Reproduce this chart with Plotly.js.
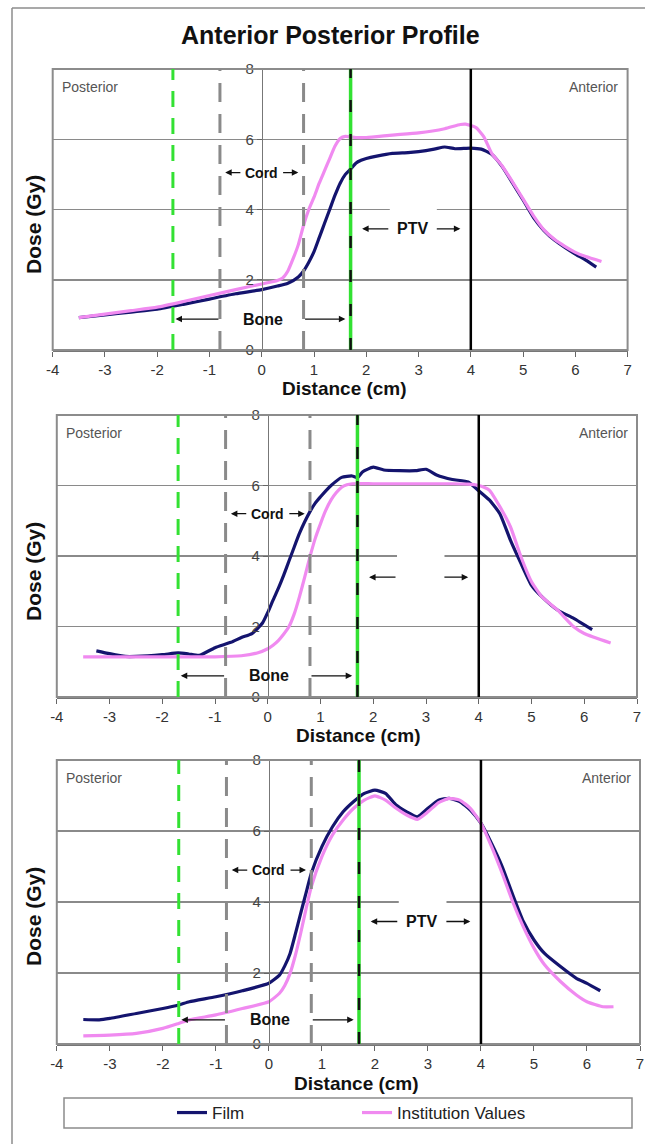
<!DOCTYPE html>
<html><head><meta charset="utf-8">
<script src="https://cdn.plot.ly/plotly-3.0.1.min.js"></script>
<style>html,body{margin:0;padding:0;background:#fff}</style>
</head><body><div id="chart" style="width:645px;height:1144px"></div>
<script>
// ---- data ----
const xTickVals = [-4,-3,-2,-1,0,1,2,3,4,5,6,7];
const xTickText = ['-4','-3','-2','-1','0','1','2','3','4','5','6','7'];
const yTickVals = [0,2,4,6,8];
const boneEdges = [-1.7, 1.7];
const cordEdges = [-0.8, 0.8];
const ptvEdge = 4;
const seriesNames = ['Film', 'Institution Values'];

const topFilmX = [-3.5,-3,-2.5,-2,-1.5,-1,-0.5,0,0.3,0.5,0.7,0.8,0.9,1.0,1.1,1.2,1.3,1.4,1.5,1.6,1.7,1.8,1.9,2.0,2.2,2.5,2.8,3.0,3.3,3.5,3.7,4.0,4.2,4.4,4.6,4.8,5.0,5.2,5.4,5.6,5.8,6.0,6.2,6.4];
const topFilmY = [0.92,1.0,1.08,1.16,1.3,1.45,1.6,1.72,1.82,1.9,2.08,2.25,2.5,2.8,3.2,3.6,4.0,4.4,4.75,5.0,5.15,5.32,5.4,5.45,5.52,5.6,5.62,5.65,5.72,5.78,5.73,5.75,5.72,5.57,5.22,4.75,4.27,3.77,3.4,3.13,2.92,2.73,2.56,2.36];
const topInstX = [-3.5,-3,-2.5,-2,-1.5,-1,-0.5,0,0.3,0.4,0.5,0.6,0.7,0.8,0.9,1.0,1.1,1.2,1.3,1.4,1.5,1.6,1.8,2.0,2.5,3.0,3.5,3.8,3.9,4.1,4.25,4.4,4.6,4.8,5.0,5.2,5.4,5.6,5.8,6.0,6.2,6.5];
const topInstY = [0.92,1.02,1.12,1.22,1.38,1.55,1.72,1.88,1.98,2.05,2.25,2.6,3.0,3.55,4.0,4.35,4.75,5.1,5.45,5.8,6.02,6.08,6.05,6.05,6.12,6.18,6.3,6.42,6.43,6.33,6.07,5.6,5.24,4.78,4.3,3.82,3.42,3.15,2.95,2.78,2.66,2.52];

const midFilmX = [-3.25,-3,-2.7,-2.5,-2,-1.7,-1.5,-1.3,-1,-0.7,-0.5,-0.3,-0.1,0,0.1,0.2,0.3,0.4,0.5,0.6,0.7,0.8,0.9,1.0,1.1,1.2,1.4,1.6,1.7,1.8,2.0,2.2,2.5,2.8,3.0,3.2,3.5,3.8,4.0,4.2,4.4,4.6,4.8,5.0,5.2,5.5,5.8,6.15];
const midFilmY = [1.31,1.23,1.15,1.15,1.2,1.25,1.22,1.18,1.4,1.55,1.69,1.8,2.1,2.4,2.75,3.08,3.45,3.85,4.25,4.64,4.97,5.26,5.5,5.68,5.85,6.0,6.23,6.27,6.22,6.39,6.52,6.44,6.42,6.42,6.46,6.3,6.17,6.1,5.85,5.59,5.2,4.45,3.79,3.17,2.84,2.46,2.23,1.91];
const midInstX = [-3.5,-3,-2,-1,-0.5,-0.2,0,0.1,0.2,0.3,0.4,0.5,0.6,0.7,0.8,0.9,1.0,1.1,1.2,1.3,1.4,1.5,1.6,2.0,2.5,3.0,3.5,3.8,4.0,4.1,4.2,4.4,4.6,4.8,5.0,5.2,5.5,5.8,6.0,6.5];
const midInstY = [1.14,1.14,1.14,1.14,1.17,1.25,1.37,1.47,1.6,1.78,1.99,2.35,2.84,3.4,3.98,4.5,4.92,5.3,5.59,5.8,5.95,6.02,6.05,6.05,6.05,6.05,6.05,6.04,6.0,5.95,5.87,5.4,4.83,3.98,3.27,2.84,2.46,1.99,1.8,1.53];

const botFilmX = [-3.5,-3.2,-3,-2.5,-2,-1.7,-1.5,-1,-0.5,0,0.2,0.3,0.4,0.5,0.6,0.7,0.8,1.0,1.2,1.4,1.6,1.8,2.0,2.2,2.4,2.6,2.8,3.0,3.2,3.4,3.6,3.8,4.0,4.2,4.4,4.6,4.8,5.0,5.2,5.5,5.8,6.0,6.25];
const botFilmY = [0.69,0.68,0.72,0.86,1.0,1.1,1.19,1.33,1.5,1.71,1.94,2.2,2.55,3.1,3.68,4.25,4.81,5.56,6.12,6.54,6.83,7.06,7.15,7.06,6.73,6.54,6.4,6.64,6.87,6.92,6.83,6.59,6.22,5.65,5.0,4.2,3.45,2.93,2.55,2.18,1.85,1.71,1.5];
const botInstX = [-3.5,-3,-2.5,-2,-1.7,-1.5,-1,-0.5,0,0.2,0.3,0.4,0.5,0.6,0.7,0.8,1.0,1.2,1.4,1.6,1.8,2.0,2.2,2.4,2.6,2.8,3.0,3.2,3.4,3.6,3.8,4.0,4.2,4.4,4.6,4.8,5.0,5.2,5.5,5.8,6.0,6.3,6.5];
const botInstY = [0.23,0.25,0.3,0.44,0.58,0.68,0.82,1.0,1.19,1.43,1.65,1.99,2.5,3.12,3.8,4.43,5.28,5.89,6.31,6.64,6.87,6.99,6.87,6.64,6.45,6.33,6.54,6.8,6.92,6.87,6.64,6.22,5.56,4.81,4.0,3.3,2.7,2.23,1.76,1.38,1.19,1.05,1.05];

const cordLabelY = [5.05, 5.2, 4.9];
const boneLabelY = [0.88, 0.6, 0.68];
const ptvLabelY = [3.45, 3.4, 3.45];
const ptvLabels = ['PTV', '', 'PTV'];

// ---- layout geometry (pixels) ----
const W = 645, H = 1144;
const panels = [
  {x0: 52.7, x1: 627.6, y0: 69, y1: 350, film: [topFilmX, topFilmY], inst: [topInstX, topInstY]},
  {x0: 56.8, x1: 637, y0: 415, y1: 697, film: [midFilmX, midFilmY], inst: [midInstX, midInstY]},
  {x0: 56.8, x1: 640, y0: 760, y1: 1044, film: [botFilmX, botFilmY], inst: [botInstX, botInstY]}
];
const px = v => v / W;
const py = v => 1 - v / H;
const FONT = 'Liberation Sans, Arial, sans-serif';
const filmColor = '#14146e';
const instColor = '#f08af0';
const green = '#33e133';

const data = [];
const shapes = [];
const annotations = [];
const layout = {
  width: W, height: H,
  margin: {l: 0, r: 0, t: 0, b: 0},
  paper_bgcolor: '#ffffff', plot_bgcolor: '#ffffff',
  font: {family: FONT, color: '#222'},
  showlegend: true,
  legend: {
    orientation: 'h', x: px(172), y: py(1113), xanchor: 'left', yanchor: 'middle',
    bgcolor: 'rgba(0,0,0,0)', borderwidth: 0,
    font: {family: FONT, size: 17, color: '#222'},
    entrywidth: 140, entrywidthmode: 'pixels'
  }
};

panels.forEach((p, i) => {
  const n = i === 0 ? '' : String(i + 1);
  const xa = 'x' + n, ya = 'y' + n;
  const unit = (p.x1 - p.x0) / 11;
  const zeroPx = p.x0 + 4 * unit;
  layout['xaxis' + n] = {
    domain: [px(p.x0), px(p.x1)], anchor: ya, range: [-4, 7],
    tickvals: xTickVals, ticktext: xTickText, ticks: 'outside', ticklen: 5, tickcolor: '#666', tickwidth: 1,
    showline: true, linecolor: '#777', linewidth: 1.5,
    showgrid: false, zeroline: false,
    tickfont: {family: FONT, size: 15, color: '#333'}
  };
  layout['yaxis' + n] = {
    domain: [py(p.y1), py(p.y0)], anchor: 'free', position: px(zeroPx), range: [0, 8],
    tickvals: yTickVals, ticks: 'outside', ticklen: 5, tickcolor: '#666',
    showline: true, linecolor: '#777', linewidth: 1,
    showgrid: true, gridcolor: '#8a8a8a', gridwidth: 1.5, zeroline: false,
    tickfont: {family: FONT, size: 15, color: '#444'}
  };
  data.push({
    type: 'scatter', mode: 'lines', name: seriesNames[0], x: p.film[0], y: p.film[1],
    xaxis: xa, yaxis: ya, line: {color: filmColor, width: 3.2, shape: 'spline', smoothing: 0.5},
    showlegend: i === 2, hoverinfo: 'skip'
  });
  data.push({
    type: 'scatter', mode: 'lines', name: seriesNames[1], x: p.inst[0], y: p.inst[1],
    xaxis: xa, yaxis: ya, line: {color: instColor, width: 3.2, shape: 'spline', smoothing: 0.5},
    showlegend: i === 2, hoverinfo: 'skip'
  });
  // gap in the 4 Gy gridline behind the PTV text box
  shapes.push({type: 'rect', xref: xa, yref: ya, x0: 2.45, x1: 3.35, y0: 3.9, y1: 4.1,
    fillcolor: '#ffffff', line: {width: 0}, layer: 'between'});
  // plot frame
  shapes.push({type: 'rect', xref: xa + ' domain', yref: ya + ' domain', x0: 0, x1: 1, y0: 0, y1: 1,
    line: {color: '#8c8c8c', width: 2}, layer: 'above'});
  const vline = (x, color, width, dash) => shapes.push({type: 'line', xref: xa, yref: ya + ' domain',
    x0: x, x1: x, y0: 0, y1: 1, line: {color: color, width: width, dash: dash}, layer: 'above'});
  vline(boneEdges[0], green, 3, '16px,11px');
  vline(cordEdges[0], '#8a8a8a', 3, '19px,12px');
  vline(cordEdges[1], '#8a8a8a', 3, '19px,12px');
  vline(boneEdges[1], green, 3.5, 'solid');
  vline(boneEdges[1], '#111111', 2.5, '12px,22px');
  vline(ptvEdge, '#000000', 2.5, 'solid');

  // side labels
  annotations.push({xref: xa, yref: ya, x: -3.86, y: 7.5, xanchor: 'left', yanchor: 'middle',
    text: 'Posterior', showarrow: false, font: {family: FONT, size: 14, color: '#555'}});
  annotations.push({xref: xa, yref: ya, x: 6.86, y: 7.5, xanchor: 'right', yanchor: 'middle',
    text: 'Anterior', showarrow: false, font: {family: FONT, size: 14, color: '#555'}});
  // region labels
  annotations.push({xref: xa, yref: ya, x: 0, y: cordLabelY[i], text: '<b>Cord</b>', showarrow: false,
    font: {family: FONT, size: 14, color: '#111'}});
  annotations.push({xref: xa, yref: ya, x: 0.02, y: boneLabelY[i], text: '<b>Bone</b>', showarrow: false,
    font: {family: FONT, size: 16, color: '#111'}});
  if (ptvLabels[i]) annotations.push({xref: xa, yref: ya, x: 2.88, y: ptvLabelY[i], text: '<b>' + ptvLabels[i] + '</b>',
    showarrow: false, font: {family: FONT, size: 16, color: '#111'}});
  const arrow = (tail, head, y) => annotations.push({xref: xa, yref: ya, axref: xa, ayref: ya,
    x: head, y: y, ax: tail, ay: y, text: '', showarrow: true, arrowhead: 2, arrowsize: 1,
    arrowwidth: 1.3, arrowcolor: '#111', standoff: 0, startstandoff: 0});
  arrow(-0.38, -0.7, cordLabelY[i]);
  arrow(0.38, 0.7, cordLabelY[i]);
  arrow(-0.8, -1.65, boneLabelY[i]);
  arrow(0.8, 1.6, boneLabelY[i]);
  arrow(2.45, 1.92, ptvLabelY[i]);
  arrow(3.32, 3.8, ptvLabelY[i]);
});

// axis titles
const xTitleY = [389, 735, 1083];
const xTitleX = [345, 358, 356];
const yTitleY = [225, 572, 917];
panels.forEach((p, i) => {
  annotations.push({xref: 'paper', yref: 'paper', x: px(xTitleX[i]), y: py(xTitleY[i]),
    xanchor: 'center', yanchor: 'middle', text: '<b>Distance (cm)</b>', showarrow: false,
    font: {family: FONT, size: 19, color: '#111'}});
  annotations.push({xref: 'paper', yref: 'paper', x: px(33), y: py(yTitleY[i]),
    xanchor: 'center', yanchor: 'middle', text: '<b>Dose (Gy)</b>', textangle: -90, showarrow: false,
    font: {family: FONT, size: 21, color: '#111'}});
});
annotations.push({xref: 'paper', yref: 'paper', x: px(330), y: py(35), xanchor: 'center', yanchor: 'middle',
  text: '<b>Anterior Posterior Profile</b>', showarrow: false, font: {family: FONT, size: 25, color: '#111'}});

// outer frame (left + top) and legend box
shapes.push({type: 'line', xref: 'paper', yref: 'paper', x0: px(12), x1: px(12), y0: 0, y1: py(8),
  line: {color: '#8c8c8c', width: 1.5}});
shapes.push({type: 'line', xref: 'paper', yref: 'paper', x0: px(12), x1: 1, y0: py(8), y1: py(8),
  line: {color: '#8c8c8c', width: 1.5}});
shapes.push({type: 'rect', xref: 'paper', yref: 'paper', x0: px(64), x1: px(632), y0: py(1128), y1: py(1098),
  line: {color: '#8c8c8c', width: 1.5}});

layout.shapes = shapes;
layout.annotations = annotations;
Plotly.newPlot('chart', data, layout, {staticPlot: true});
</script></body></html>
